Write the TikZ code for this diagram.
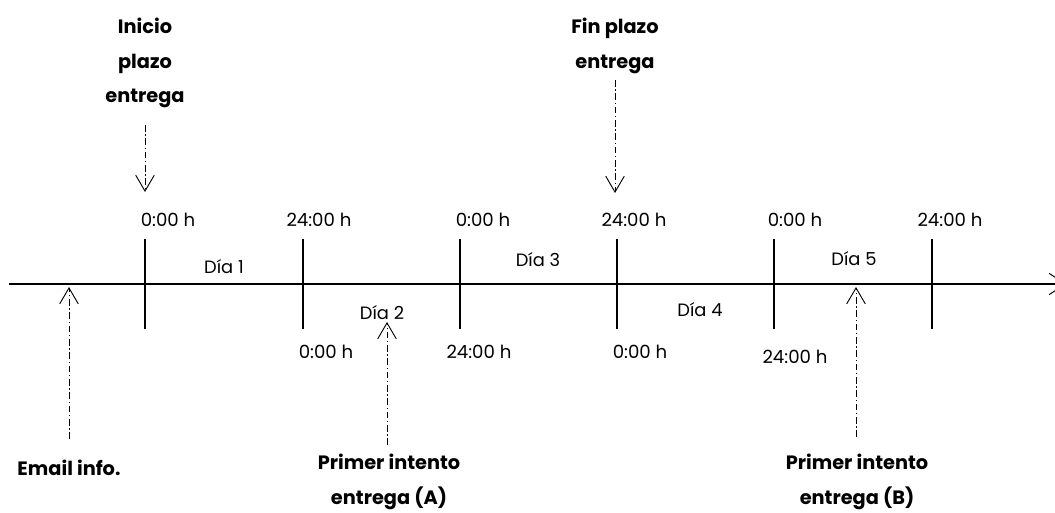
\documentclass[tikz,border=0pt]{standalone}
\usepackage{fontspec}
\setmainfont{Poppins}
\usetikzlibrary{arrows.meta}
\begin{document}
\begin{tikzpicture}[x=0.75pt,y=-0.75pt,
  axisline/.style={line width=0.8pt},
  timelbl/.style={font=\fontsize{13.6}{15}\selectfont, inner sep=0pt},
  daylbl/.style={font=\fontsize{13.4}{15}\selectfont, inner sep=0pt},
  eventlbl/.style={font=\bfseries\fontsize{14.5}{26}\selectfont, align=center, inner sep=0pt},
  pointer/.style={line width=0.6pt, dash pattern=on 5pt off 2pt on 1pt off 2pt,
    -{Straight Barb[length=12pt,width=14pt,line width=0.7pt]}}
]
\clip (0,0) rectangle (1055,512);
\fill[white] (0,0) rectangle (1055,512);
% axis
\coordinate (axL) at (9,284);
\coordinate (axR) at (1066,284);
\draw[axisline,-{Straight Barb[length=12pt,width=16pt,line width=0.7pt]}] (axL) -- (axR);
% ticks
\foreach \n/\x in {t1/145,t2/303,t3/460,t4/617,t5/774,t6/932}{
  \coordinate (\n a) at (\x,239);
  \coordinate (\n b) at (\x,329);
  \draw[axisline] (\n a) -- (\n b);
}
% time labels
\node[timelbl] (h1) at (168,220) {0:00 h};
\node[timelbl] (h2) at (319,220) {24:00 h};
\node[timelbl] (h3) at (483,220) {0:00 h};
\node[timelbl] (h4) at (634,220) {24:00 h};
\node[timelbl] (h5) at (795,220) {0:00 h};
\node[timelbl] (h6) at (950,220) {24:00 h};
\node[timelbl] (b2) at (326,352) {0:00 h};
\node[timelbl] (b3) at (479,352) {24:00 h};
\node[timelbl] (b4) at (640,352) {0:00 h};
\node[timelbl] (b5) at (795,357) {24:00 h};
% day labels
\node[daylbl] (d1) at (224,267) {Día 1};
\node[daylbl] (d2) at (382,313) {Día 2};
\node[daylbl] (d3) at (538,260) {Día 3};
\node[daylbl] (d4) at (700,310) {Día 4};
\node[daylbl] (d5) at (854,259) {Día 5};
% event labels
\node[eventlbl] (ini) at (145,63) {Inicio\\plazo\\entrega};
\node[eventlbl] (fin) at (615,46) {Fin plazo\\entrega};
\node[eventlbl] (mail) at (69,468) {Email info.};
\node[eventlbl] (pa) at (389,482) {Primer intento\\entrega (A)};
\node[eventlbl] (pb) at (857,482) {Primer intento\\entrega (B)};
% pointer arrows
\coordinate (iniS) at (145,125); \coordinate (iniT) at (145,192);
\coordinate (finS) at (615,80);  \coordinate (finT) at (615,193);
\coordinate (mailS) at (69,439); \coordinate (mailT) at (69,287);
\coordinate (paS) at (387,445);  \coordinate (paT) at (387,322);
\coordinate (pbS) at (856,437);  \coordinate (pbT) at (856,287);
\draw[pointer] (iniS) -- (iniT);
\draw[pointer] (finS) -- (finT);
\draw[pointer] (mailS) -- (mailT);
\draw[pointer] (paS) -- (paT);
\draw[pointer] (pbS) -- (pbT);
\end{tikzpicture}
\end{document}
